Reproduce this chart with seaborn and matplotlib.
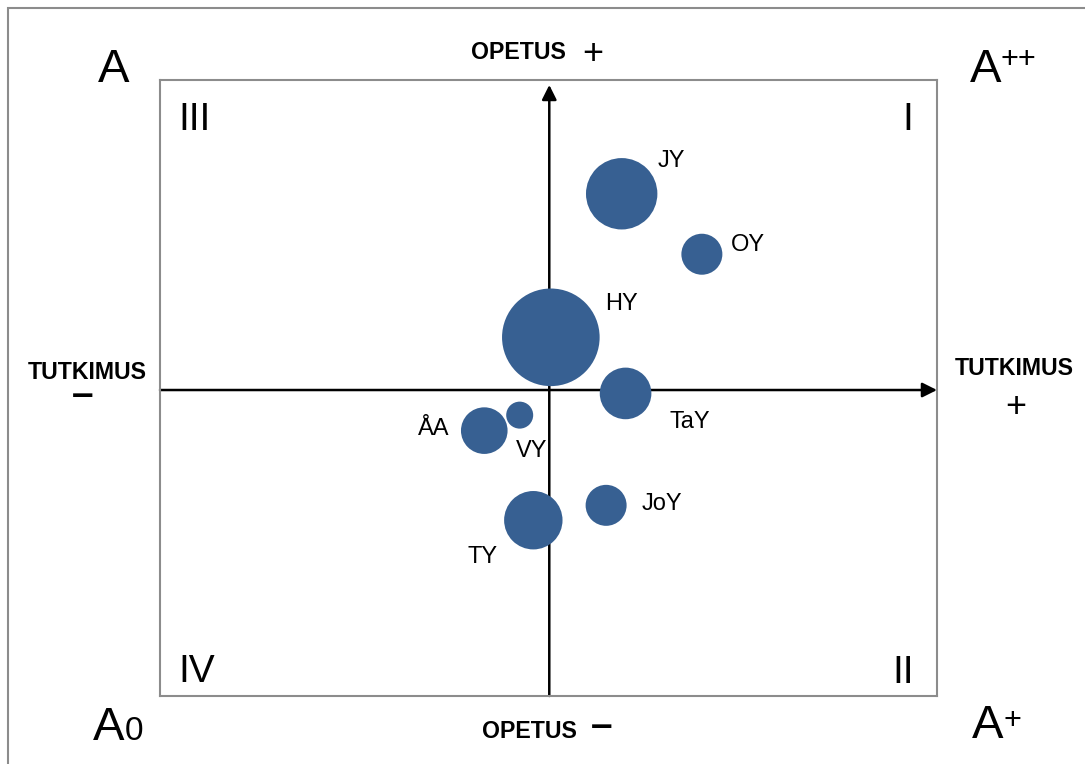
import pandas as pd
import matplotlib.pyplot as plt
import matplotlib.patches as mpatches
import seaborn as sns

# Yliopistot: tutkimus (x), opetus (y), koko (kuplan pinta-ala)
yliopistot = ['JY', 'OY', 'HY', 'TaY', 'ÅA', 'VY', 'JoY', 'TY']
tutkimus = [0.186, 0.392, 0.004, 0.196, -0.167, -0.076, 0.146, -0.041]
opetus = [0.633, 0.438, 0.170, -0.011, -0.131, -0.081, -0.372, -0.420]
koko = [1274, 420, 2381, 666, 543, 182, 420, 853]

df = pd.DataFrame({'yliopisto': yliopistot, 'tutkimus': tutkimus,
                   'opetus': opetus, 'koko': koko})

sns.set_theme(style='white')
plt.rcParams['font.family'] = ['Liberation Sans', 'DejaVu Sans']

W, H = 1085, 764
fig = plt.figure(figsize=(W / 100, H / 100), dpi=100)
ax = fig.add_axes([160 / W, 1 - 696 / H, (937 - 160) / W, (696 - 80) / H])

xmin, xmax = -1.0, 0.996
ymin, ymax = -0.987, 1.0
ax.set_xlim(xmin, xmax)
ax.set_ylim(ymin, ymax)

# akselit nuolineen
arrow = dict(arrowstyle='-|>', color='black', lw=1.8, mutation_scale=22,
             shrinkA=0, shrinkB=0)
ax.annotate('', xy=(xmax, 0), xytext=(xmin, 0), arrowprops=arrow, zorder=1)
ax.annotate('', xy=(0, 0.984), xytext=(0, ymin), arrowprops=arrow, zorder=1)

bubble_color = '#376092'
sns.scatterplot(data=df, x='tutkimus', y='opetus', size='koko',
                sizes=(0, 4938), size_norm=(0, max(koko)),
                color=bubble_color, linewidth=0, legend=False, ax=ax, zorder=3)

# nimien paikat kuplan keskipisteestä (pikseleinä)
label_offsets = {'JY': (50, 27), 'OY': (46, 3), 'HY': (71, 27), 'TaY': (64, -35),
                 'ÅA': (-51, -4), 'VY': (12, -42), 'JoY': (56, -5), 'TY': (-51, -43)}
for name, x, y in zip(yliopistot, tutkimus, opetus):
    ax.annotate(name, (x, y), xytext=label_offsets[name], textcoords='offset pixels',
                ha='center', va='baseline', fontsize=17, color='black', zorder=4)

ax.set_xticks([])
ax.set_yticks([])
ax.set_xlabel('')
ax.set_ylabel('')
for sp in ax.spines.values():
    sp.set_color('#8c8c8c')
    sp.set_linewidth(1.5)


def put(s, x, y, size, weight='normal'):
    fig.text(x / W, 1 - y / H, s, ha='center', va='baseline',
             fontsize=size, fontweight=weight, color='black')


# neljännekset
put('III', 195, 130, 28)
put('I', 908, 130, 28)
put('IV', 197, 682, 28)
put('II', 903.5, 683, 28)

# kulmat
put('A', 113.5, 82, 34)
put('A', 986, 82, 34)
put('++', 1018.5, 68, 22)
put('A', 109, 740, 34)
put('0', 133.5, 740, 24)
put('A', 987.5, 738, 34)
put('+', 1012, 729, 22)

# akselien nimet
put('OPETUS', 518, 59, 16.7, 'bold')
put('+', 593, 64, 26)
put('OPETUS', 529.5, 738, 16.7, 'bold')
put('–', 602, 737, 28, 'bold')
put('TUTKIMUS', 87.5, 379, 16.7, 'bold')
put('–', 83, 406, 28, 'bold')
put('TUTKIMUS', 1014.5, 375, 16.7, 'bold')
put('+', 1016, 417, 26)

# ulkokehys
fig.add_artist(mpatches.Rectangle((8 / W, -0.1), 1.2, 1 - 8 / H + 0.1,
                                  transform=fig.transFigure, fill=False,
                                  edgecolor='#8c8c8c', linewidth=1.5))

fig.savefig('out.png', dpi=100)
